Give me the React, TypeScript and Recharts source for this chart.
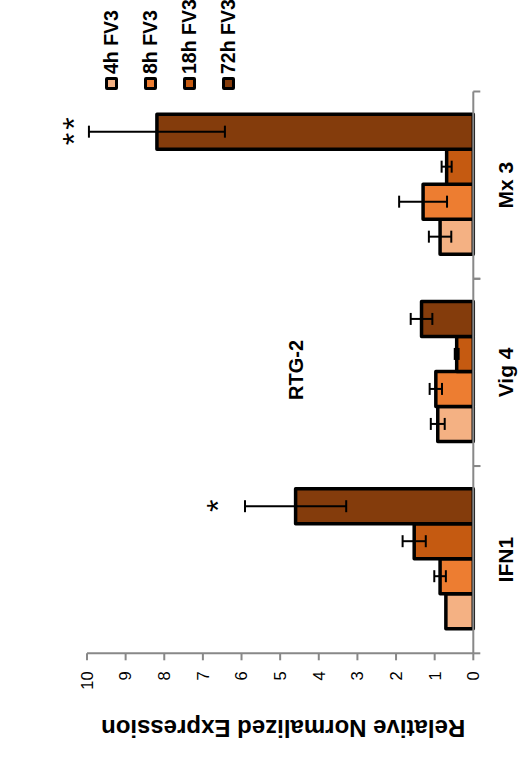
import { Bar, BarChart, ErrorBar, Label, LabelList, XAxis, YAxis } from "recharts";

const genes = ["IFN1", "Vig 4", "Mx 3"];
const h4 = [0.71, 0.92, 0.86];
const h8 = [0.86, 0.97, 1.3];
const h18 = [1.53, 0.43, 0.69];
const h72 = [4.6, 1.34, 8.19];
const err4 = [0, 0.18, 0.29];
const err8 = [0.15, 0.16, 0.62];
const err18 = [0.3, 0.05, 0.13];
const err72 = [1.31, 0.28, 1.76];
// significance marks over the 72h bars, and the value level they sit at
const stars = ["*", "", "**"];
const starAt = [6.78, 0, 10.53];
const yTicks = [0, 1, 2, 3, 4, 5, 6, 7, 8, 9, 10];

const series = [
  { key: "h4", err: "e4", name: "4h FV3", color: "#F4B183" },
  { key: "h8", err: "e8", name: "8h FV3", color: "#ED7D31" },
  { key: "h18", err: "e18", name: "18h FV3", color: "#C55A11" },
  { key: "h72", err: "e72", name: "72h FV3", color: "#843C0C" },
];

const data = genes.map((gene, i) => ({
  gene,
  h4: h4[i],
  h8: h8[i],
  h18: h18[i],
  h72: h72[i],
  e4: err4[i],
  e8: err8[i],
  e18: err18[i],
  e72: err72[i],
  star: stars[i],
}));

const GRAY = "#888";
const FONT = '"Liberation Sans", Arial, sans-serif';

// label in the middle of the band, tick marks on the band edges
function CategoryTick(props: any) {
  const { x, y, payload, width, visibleTicksCount } = props;
  const half =
    payload && payload.offset ? payload.offset : width / visibleTicksCount / 2;
  return (
    <g>
      <line x1={x - half} y1={y} x2={x - half} y2={y + 7} stroke={GRAY} strokeWidth={2} />
      <line x1={x + half} y1={y} x2={x + half} y2={y + 7} stroke={GRAY} strokeWidth={2} />
      <text
        x={x}
        y={y + 40}
        textAnchor="middle"
        fontSize={21}
        fontWeight="bold"
        fill="#000"
      >
        {payload.value}
      </text>
    </g>
  );
}

function AxisTitle({ viewBox }: any) {
  const cx = viewBox.x + 27;
  const cy = viewBox.y + viewBox.height / 2 + 3;
  return (
    <text
      x={cx}
      y={cy}
      transform={`rotate(-90, ${cx}, ${cy})`}
      textAnchor="middle"
      fontSize={24}
      fontWeight="bold"
      fill="#000"
    >
      Relative Normalized Expression
    </text>
  );
}

function StarLabel(props: any) {
  const vb = props.viewBox ?? props;
  const i = props.index;
  const mark = stars[i];
  if (!mark) return null;
  const h = Math.abs(vb.height);
  const base = Math.min(vb.y, vb.y + vb.height) + h;
  const py = base - (starAt[i] / h72[i]) * h;
  return (
    <text
      x={vb.x + vb.width / 2 + 2}
      y={py + 18}
      textAnchor="middle"
      fontSize={32}
      letterSpacing={3}
      fill="#000"
    >
      {mark}
    </text>
  );
}

export default function App() {
  return (
    <div
      style={{
        position: "absolute",
        left: 0,
        top: 0,
        width: 518,
        height: 767,
        overflow: "hidden",
        background: "#fff",
        fontFamily: FONT,
      }}
    >
      <div
        style={{
          position: "absolute",
          left: 0,
          top: 0,
          width: 767,
          height: 518,
          transformOrigin: "0 0",
          transform: "translate(0px, 767px) rotate(-90deg)",
        }}
      >
        <BarChart
          width={767}
          height={518}
          data={data}
          margin={{ top: 87, right: 91.5, bottom: 4.7, left: 20 }}
          barGap={0}
          barCategoryGap={24.6}
        >
          <XAxis
            dataKey="gene"
            height={40}
            interval={0}
            tickLine={false}
            tickSize={0}
            tickMargin={0}
            axisLine={{ stroke: GRAY, strokeWidth: 2 }}
            tick={<CategoryTick />}
          />
          <YAxis
            type="number"
            domain={[0, 10]}
            ticks={yTicks}
            interval={0}
            width={93.7}
            tickSize={7}
            tickMargin={11}
            axisLine={{ stroke: GRAY, strokeWidth: 2 }}
            tickLine={{ stroke: GRAY, strokeWidth: 2 }}
            tick={{ fill: "#000", fontSize: 16.5 }}
          >
            <Label content={AxisTitle} />
          </YAxis>
          {series.map((s) => (
            <Bar
              key={s.key}
              dataKey={s.key}
              name={s.name}
              fill={s.color}
              stroke="#000"
              strokeWidth={3.5}
              strokeLinejoin="round"
              isAnimationActive={false}
            >
              <ErrorBar
                dataKey={s.err}
                direction="y"
                width={6}
                strokeWidth={2}
                stroke="#000"
              />
              {s.key === "h72" && <LabelList dataKey="star" content={StarLabel} />}
            </Bar>
          ))}
        </BarChart>

        <div
          style={{
            position: "absolute",
            left: 347,
            top: 286,
            width: 100,
            textAlign: "center",
            fontSize: 20,
            fontWeight: "bold",
            lineHeight: 1,
          }}
        >
          RTG-2
        </div>

        <ul
          style={{
            position: "absolute",
            left: 677,
            top: 92,
            margin: 0,
            padding: 0,
            listStyle: "none",
          }}
        >
          {series.map((s) => (
            <li
              key={s.key}
              style={{
                display: "flex",
                alignItems: "center",
                height: 39,
                whiteSpace: "nowrap",
              }}
            >
              <span
                style={{
                  width: 13,
                  height: 13,
                  boxSizing: "border-box",
                  border: "3px solid #000",
                  borderRadius: 2,
                  background: s.color,
                  marginRight: 3,
                }}
              />
              <span style={{ fontSize: 19.5, fontWeight: "bold", lineHeight: 1 }}>
                {s.name}
              </span>
            </li>
          ))}
        </ul>
      </div>
    </div>
  );
}
